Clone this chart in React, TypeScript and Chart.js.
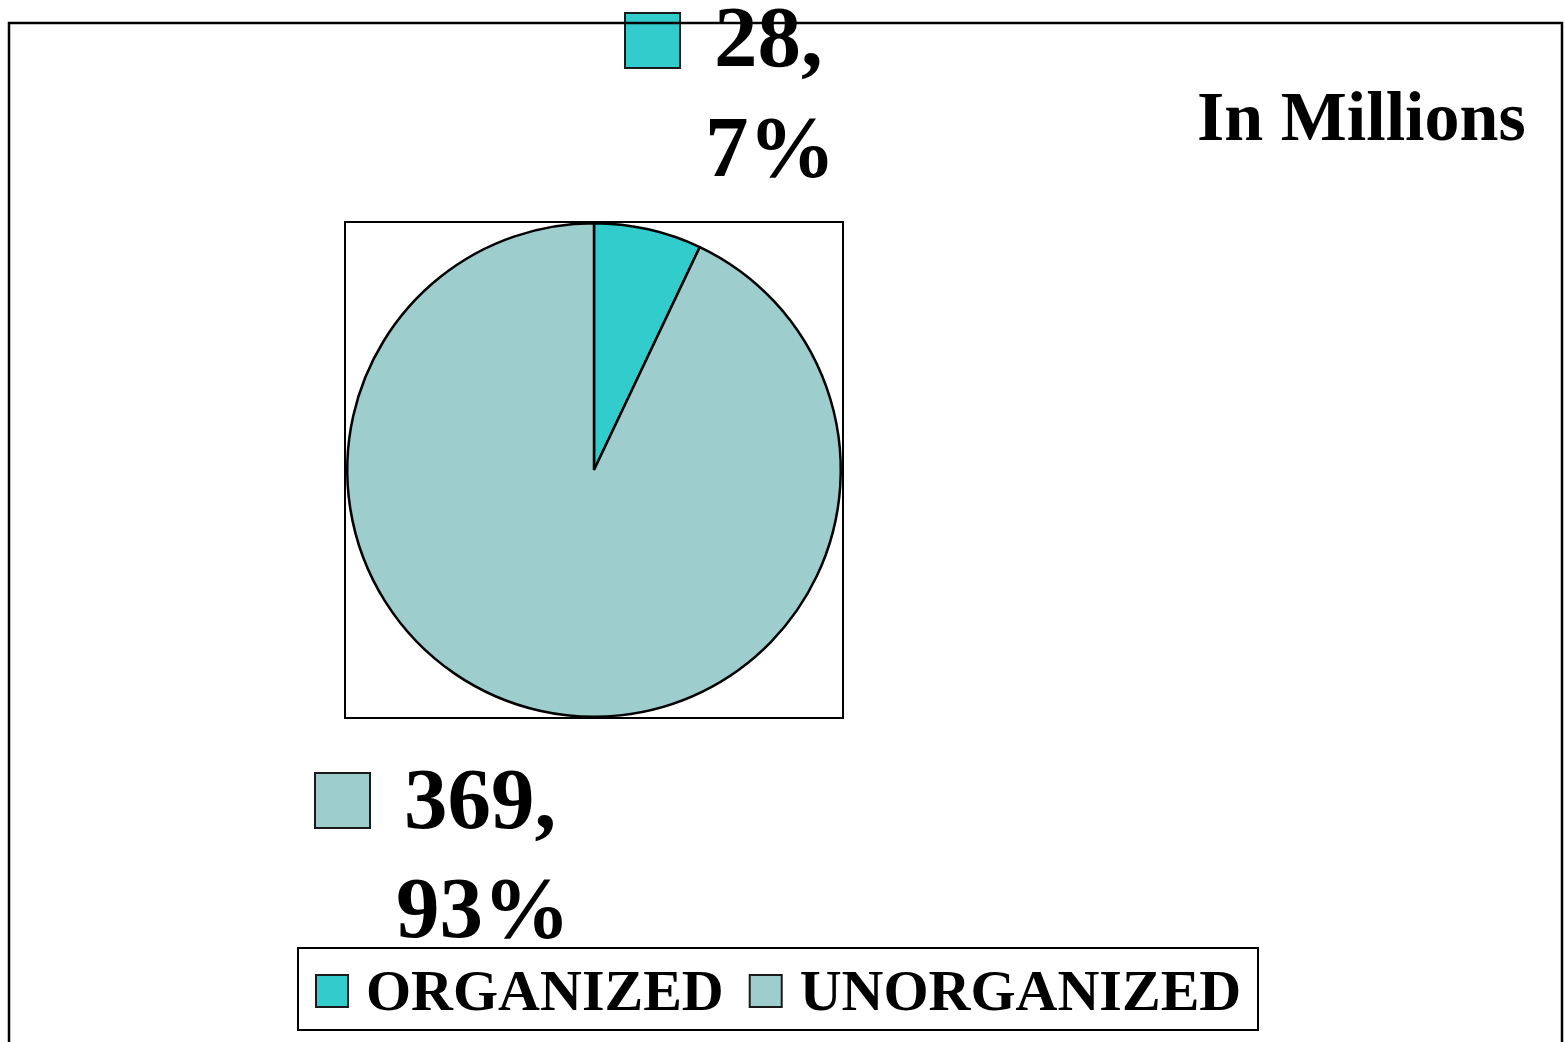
import React, { useEffect, useRef } from "react";
import { Chart, registerables } from "chart.js";

Chart.register(...registerables);

const categories = ["ORGANIZED", "UNORGANIZED"];
const values = [28, 369];
const colors = ["#33CCCC", "#9DCDCC"];
const unitNote = "In Millions";

const FONT = '"Liberation Serif", "Times New Roman", serif';

const decorPlugin = {
  id: "decor",
  beforeDraw(chart: any) {
    const ctx = chart.ctx;
    const a = chart.chartArea;
    ctx.save();
    ctx.fillStyle = "#ffffff";
    ctx.fillRect(0, 0, chart.width, chart.height);
    // plot box
    ctx.strokeStyle = "#000";
    ctx.lineWidth = 2;
    ctx.strokeRect(a.left, a.top, a.right - a.left, a.bottom - a.top);
    ctx.restore();
  },
  afterDraw(chart: any) {
    const ctx = chart.ctx;
    const data = chart.data.datasets[0].data as number[];
    const bg = chart.data.datasets[0].backgroundColor as string[];
    const total = data.reduce((s, v) => s + v, 0);
    ctx.save();
    ctx.fillStyle = "#000";
    ctx.textBaseline = "alphabetic";
    ctx.textAlign = "left";
    // unit note
    ctx.font = `bold 70px ${FONT}`;
    ctx.fillText(unitNote, 1197, 140);

    const marker = (x: number, y: number, s: number, c: string) => {
      ctx.fillStyle = c;
      ctx.fillRect(x, y, s, s);
      ctx.strokeStyle = "#1a1a1a";
      ctx.lineWidth = 2;
      ctx.strokeRect(x, y, s, s);
      ctx.fillStyle = "#000";
    };

    // data labels
    const labelPos = [
      { mx: 625, my: 13, x1: 714, y1: 66, x2: 705, y2: 176 },
      { mx: 315, my: 773, x1: 404, y1: 828, x2: 396, y2: 937 },
    ];
    ctx.font = `bold 87px ${FONT}`;
    data.forEach((v, i) => {
      const p = labelPos[i];
      const pct = Math.round((v / total) * 100);
      marker(p.mx, p.my, 55, bg[i]);
      ctx.fillText(`${v},`, p.x1, p.y1);
      ctx.fillText(`${pct}%`, p.x2, p.y2);
    });

    // outer frame (drawn over the top label)
    ctx.strokeStyle = "#000";
    ctx.lineWidth = 2.5;
    ctx.beginPath();
    ctx.moveTo(9, 1050);
    ctx.lineTo(9, 23);
    ctx.lineTo(1562, 23);
    ctx.lineTo(1562, 1050);
    ctx.stroke();

    // legend
    ctx.lineWidth = 2;
    ctx.strokeRect(298, 948, 960, 82);
    ctx.font = `bold 58px ${FONT}`;
    const labels = chart.data.labels as string[];
    let x = 316;
    labels.forEach((l, i) => {
      marker(x, 975, 32, bg[i]);
      ctx.fillText(l, x + 50, 1010);
      x += 50 + ctx.measureText(l).width + 26;
    });
    ctx.restore();
  },
};

export default function App() {
  const ref = useRef<HTMLCanvasElement>(null);
  useEffect(() => {
    if (!ref.current) return;
    const chart = new Chart(ref.current, {
      type: "pie",
      data: {
        labels: categories,
        datasets: [
          {
            data: values,
            backgroundColor: colors,
            borderColor: "#000",
            borderWidth: 2.5,
          },
        ],
      },
      options: {
        responsive: false,
        animation: false,
        devicePixelRatio: 1,
        layout: { padding: { left: 345, right: 722, top: 222, bottom: 324 } },
        plugins: {
          legend: { display: false },
          tooltip: { enabled: false },
          title: { display: false },
        },
      },
      plugins: [decorPlugin],
    });
    return () => chart.destroy();
  }, []);
  return (
    <div style={{ position: "fixed", left: 0, top: 0, width: 1565, height: 1042, background: "#fff" }}>
      <canvas ref={ref} width={1565} height={1042} style={{ display: "block" }} />
    </div>
  );
}
